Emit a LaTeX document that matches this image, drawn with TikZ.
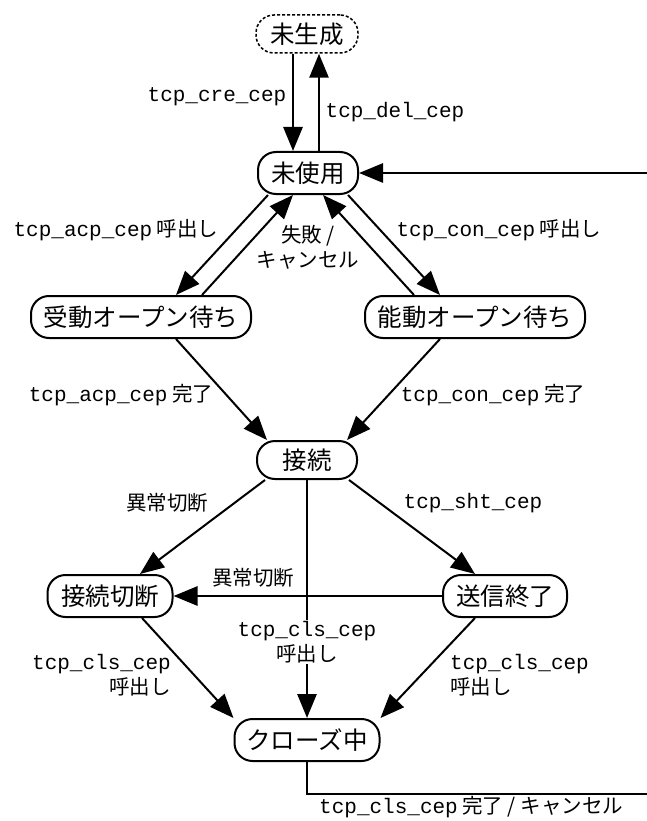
\documentclass[tikz,border=0pt]{standalone}
\usepackage{fontspec}
\setmonofont{Liberation Mono}
\newfontfamily\jp{Noto Sans CJK JP}
\usetikzlibrary{arrows.meta}
\newcommand\mono[1]{{\ttfamily\fontsize{21}{25}\selectfont #1}}
\begin{document}
\begin{tikzpicture}[x=1pt,y=-1pt,
  state/.style={draw, line width=2pt, rounded corners=18pt, minimum height=42pt,
    inner xsep=10pt, inner ysep=0pt, font=\jp\fontsize{24.5}{28}\selectfont},
  lab/.style={font=\jp\fontsize{20.5}{25}\selectfont, inner sep=1pt},
  con/.style={line width=2pt, -{Triangle[length=24pt,width=19pt]}},
  conb/.style={line width=2.8pt, -{Triangle[length=24pt,width=19pt]}}]
\useasboundingbox (0,0) rectangle (647,821);
% states
\node[state, dash pattern=on 3pt off 2pt, line width=1.5pt, minimum width=102pt, minimum height=38pt] (mi) at (307,34) {未生成};
\node[state, minimum width=100pt] (mu) at (308,173) {未使用};
\node[state, minimum width=220pt] (jd) at (141,317) {受動オープン待ち};
\node[state, minimum width=220pt] (nd) at (475,317) {能動オープン待ち};
\node[state, minimum width=100pt, minimum height=38pt] (sz) at (307,460) {接続};
\node[state, minimum width=125pt] (sd) at (110,596) {接続切断};
\node[state, minimum width=124pt] (ss) at (505,596) {送信終了};
\node[state, minimum width=145pt] (cl) at (307,740) {クローズ中};
% free ends at the right edge
\coordinate (rb) at (655,794);
\coordinate (rt) at (655,173);
% connectors
\draw[conb] ([xshift=-14pt]mi.south) -- ([xshift=-15pt]mu.north);
\draw[conb] ([xshift=11pt]mu.north) -- ([xshift=12pt]mi.south);
\draw[con] ([xshift=-40pt]mu.south) -- ([xshift=35pt]jd.north);
\draw[con] ([xshift=61pt]jd.north) -- ([xshift=-15pt]mu.south);
\draw[con] ([xshift=-61pt]nd.north) -- ([xshift=15pt]mu.south);
\draw[con] ([xshift=40pt]mu.south) -- ([xshift=-35pt]nd.north);
\draw[con] ([xshift=35pt]jd.south) -- ([xshift=-40pt]sz.north);
\draw[con] ([xshift=-35pt]nd.south) -- ([xshift=40pt]sz.north);
\draw[con] ([xshift=-42pt]sz.south) -- ([xshift=30pt]sd.north);
\draw[con] ([xshift=42pt]sz.south) -- ([xshift=-30pt]ss.north);
\draw[conb] (ss.west) -- (sd.east);
\draw[conb] (sz.south) -- node[lab, fill=white, align=center, pos=0.68] (lc) {\mono{tcp\_cls\_cep}\\呼出し} (cl.north);
\draw[con] ([xshift=32pt]sd.south) -- (cl.north west);
\draw[con] ([xshift=-30pt]ss.south) -- (cl.north east);
\draw[conb] (cl.south) |- (rb) -- (rt) -- (mu.east);
% labels
\node[lab] (l1) at (217,97) {\mono{tcp\_cre\_cep}};
\node[lab] (l2) at (395,112) {\mono{tcp\_del\_cep}};
\node[lab] (l3) at (116,230) {\mono{tcp\_acp\_cep} 呼出し};
\node[lab, align=center] (l4) at (308,247) {失敗 /\\キャンセル};
\node[lab] (l5) at (499,230) {\mono{tcp\_con\_cep} 呼出し};
\node[lab] (l6) at (121,395) {\mono{tcp\_acp\_cep} 完了};
\node[lab] (l7) at (493,395) {\mono{tcp\_con\_cep} 完了};
\node[lab] (l8) at (167,503) {異常切断};
\node[lab] (l9) at (473,503) {\mono{tcp\_sht\_cep}};
\node[lab] (l10) at (253,578) {異常切断};
\node[lab, align=right, anchor=east] (l11) at (172,675) {\mono{tcp\_cls\_cep}\\呼出し};
\node[lab, align=left, anchor=west] (l12) at (449,675) {\mono{tcp\_cls\_cep}\\呼出し};
\node[lab, anchor=base west] (l13) at (318,813.5) {\mono{tcp\_cls\_cep} 完了 / キャンセル};
\end{tikzpicture}
\end{document}
